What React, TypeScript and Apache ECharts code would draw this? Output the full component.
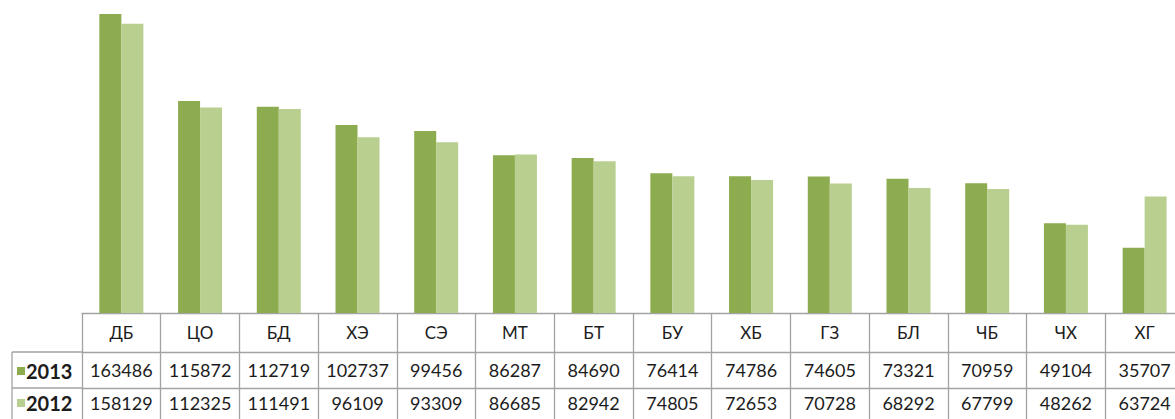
import React, { useEffect, useRef } from "react";
import * as echarts from "echarts";

const categories = ["ДБ", "ЦО", "БД", "ХЭ", "СЭ", "МТ", "БТ", "БУ", "ХБ", "ГЗ", "БЛ", "ЧБ", "ЧХ", "ХГ"];
const values2013 = [163486, 115872, 112719, 102737, 99456, 86287, 84690, 76414, 74786, 74605, 73321, 70959, 49104, 35707];
const values2012 = [158129, 112325, 111491, 96109, 93309, 86685, 82942, 74805, 72653, 70728, 68292, 67799, 48262, 63724];
const seriesNames = ["2013", "2012"];

const LINE = "#a3a3a3";
const TEXT = "#1c1c1c";
const FONT = "Lato, 'Noto Sans', sans-serif";

export default function App() {
  const ref = useRef<HTMLDivElement>(null);
  useEffect(() => {
    document.body.style.overflow = "hidden";
    document.documentElement.style.overflow = "hidden";
    const chart = echarts.init(ref.current!, null, { renderer: "svg" });
    const tableAxis = (data: string[], offset: number, margin: number) => ({
      type: "category",
      data,
      position: "bottom",
      offset,
      axisLine: { show: true, lineStyle: { color: LINE, width: 1.3 } },
      axisTick: { show: false },
      axisLabel: { margin, fontSize: 18, color: TEXT, fontFamily: FONT, interval: 0 },
      splitLine: { show: false },
    });
    chart.setOption({
      animation: false,
      backgroundColor: "#ffffff",
      grid: { left: 82, right: 16, top: 2, bottom: 106, containLabel: false },
      legend: {
        data: seriesNames,
        orient: "vertical",
        left: 17,
        top: 361,
        padding: 0,
        itemWidth: 8,
        itemHeight: 8,
        itemGap: 12,
        icon: "rect",
        selectedMode: false,
        textStyle: { fontSize: 20, fontWeight: "bold", color: TEXT, fontFamily: FONT, lineHeight: 18, padding: [0, 0, 0, -4] },
      },
      xAxis: [
        {
          type: "category",
          data: categories,
          position: "bottom",
          axisLine: { show: true, lineStyle: { color: LINE, width: 1.3 } },
          axisTick: { show: true, length: 120, lineStyle: { color: LINE, width: 1.3 } },
          axisLabel: { margin: 11, fontSize: 17, color: TEXT, fontFamily: FONT, interval: 0 },
        },
        tableAxis(values2013.map(String), 39, 9),
        tableAxis(values2012.map(String), 75, 6),
      ],
      yAxis: { type: "value", min: 0, max: 170000, show: false, splitLine: { show: false } },
      series: [
        { name: seriesNames[0], type: "bar", data: values2013, xAxisIndex: 0, barWidth: 22, barGap: "0%", itemStyle: { color: "#8dab4f" } },
        { name: seriesNames[1], type: "bar", data: values2012, xAxisIndex: 0, barWidth: 22, barGap: "0%", itemStyle: { color: "#b8cf8f" } },
      ],
      graphic: [
        { type: "line", shape: { x1: 12, y1: 352, x2: 82, y2: 352 }, style: { stroke: LINE, lineWidth: 1.3 } },
        { type: "line", shape: { x1: 12, y1: 388, x2: 82, y2: 388 }, style: { stroke: LINE, lineWidth: 1.3 } },
        { type: "line", shape: { x1: 12, y1: 352, x2: 12, y2: 430 }, style: { stroke: LINE, lineWidth: 1.3 } },
      ],
    });
    return () => chart.dispose();
  }, []);
  return <div ref={ref} style={{ position: "absolute", left: 0, top: 0, width: 1200, height: 419 }} />;
}
